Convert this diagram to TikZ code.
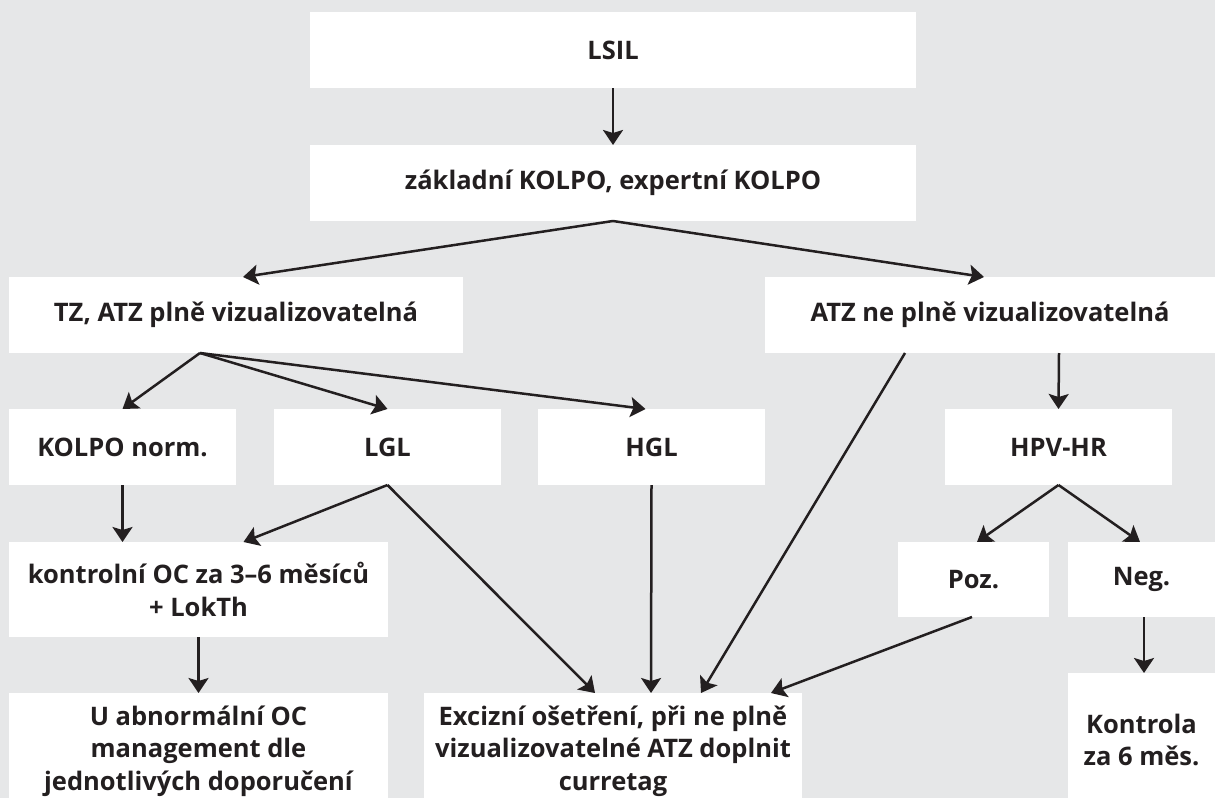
\documentclass[tikz,border=0pt]{standalone}
\usepackage{fontspec}
\setmainfont{Open Sans}
\usetikzlibrary{arrows.meta,calc}
\definecolor{pagebg}{HTML}{E6E7E8}
\definecolor{ink}{HTML}{231F20}
\begin{document}
\begin{tikzpicture}[x=1pt,y=-1pt,
  box/.style={fill=white,inner sep=0pt,outer sep=0pt,align=center,
    text=ink,font=\bfseries\fontsize{25.5}{32.5}\selectfont},
  conn/.style={draw=ink,line width=2.5pt,
    -{Stealth[length=15pt,width=20pt,inset=3pt]}}]
  \clip (0,0) rectangle (1215,798);
  \fill[pagebg] (0,0) rectangle (1215,798);

  % boxes
  \node[box,minimum width=606pt,minimum height=76pt] (lsil) at (613,50) {LSIL};
  \node[box,minimum width=606pt,minimum height=76pt] (kolpo) at (613,183) {základní KOLPO, expertní KOLPO};
  \node[box,minimum width=454pt,minimum height=76pt] (tz) at (236,315) {TZ, ATZ plně vizualizovatelná};
  \node[box,minimum width=450pt,minimum height=76pt] (atz) at (990,315) {ATZ ne plně vizualizovatelná};
  \node[box,minimum width=227pt,minimum height=76pt] (norm) at (122.5,447) {KOLPO norm.};
  \node[box,minimum width=227pt,minimum height=76pt] (lgl) at (387.5,447) {LGL};
  \node[box,minimum width=227pt,minimum height=76pt] (hgl) at (651.5,447) {HGL};
  \node[box,minimum width=227pt,minimum height=76pt] (hpv) at (1058.5,447) {HPV-HR};
  \node[box,minimum width=379pt,minimum height=95pt] (ctrl) at (198.5,589.5) {kontrolní OC za 3–6 měsíců\\+ LokTh};
  \node[box,minimum width=151pt,minimum height=75pt] (poz) at (973.5,579.5) {Poz.};
  \node[box,minimum width=148pt,minimum height=75pt] (neg) at (1141.5,579.5) {Neg.};
  \node[box,minimum width=379pt,minimum height=116pt] (abn) at (198.5,751) {U abnormální OC\\management dle\\jednotlivých doporučení};
  \node[box,minimum width=378pt,minimum height=116pt] (exc) at (613,751) {Excizní ošetření, při ne plně\\vizualizovatelné ATZ doplnit\\curretag};
  \node[box,minimum width=148pt,minimum height=134pt] (kon) at (1141.5,740) {Kontrola\\za 6 měs.};

  % connectors
  \draw[conn] (lsil.south) -- (kolpo.north);
  \draw[conn] (kolpo.south) -- ([xshift=7pt]tz.north);
  \draw[conn] (kolpo.south) -- ([xshift=-6pt]atz.north);
  \draw[conn] ([xshift=-36pt]tz.south) -- (norm.north);
  \draw[conn] ([xshift=-36pt]tz.south) -- (lgl.north);
  \draw[conn] ([xshift=-36pt]tz.south) -- ([xshift=-6pt]hgl.north);
  \draw[conn] ([xshift=-85pt]atz.south) -- ([xshift=88pt]exc.north);
  \draw[conn] ([xshift=69pt]atz.south) -- (hpv.north);
  \draw[conn] (norm.south) -- ([xshift=-76pt]ctrl.north);
  \draw[conn] (lgl.south) -- ([xshift=45pt]ctrl.north);
  \draw[conn] (lgl.south) -- ([xshift=-18pt]exc.north);
  \draw[conn] (hgl.south) -- ([xshift=38pt]exc.north);
  \draw[conn] (hpv.south) -- ([xshift=3.5pt]poz.north);
  \draw[conn] (hpv.south) -- ([xshift=-1.5pt]neg.north);
  \draw[conn] ([xshift=-1.5pt]poz.south) -- ([xshift=158pt]exc.north);
  \draw[conn] ([xshift=2.5pt]neg.south) -- ([xshift=2.5pt]kon.north);
  \draw[conn] (ctrl.south) -- (abn.north);
\end{tikzpicture}
\end{document}
